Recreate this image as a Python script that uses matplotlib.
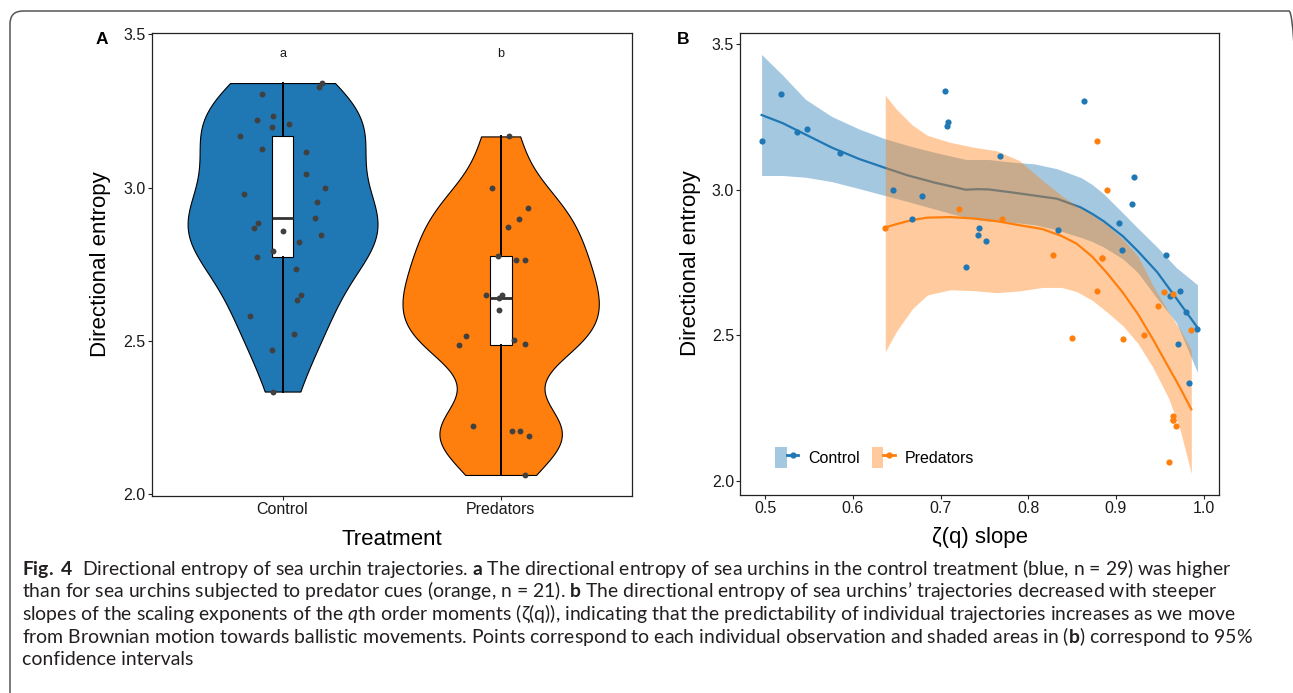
import numpy as np
import matplotlib
matplotlib.use("Agg")
import matplotlib.pyplot as plt
from matplotlib.patches import FancyBboxPatch, Patch
from matplotlib.lines import Line2D
from matplotlib.legend_handler import HandlerTuple
import matplotlib.transforms as mtransforms

W, H = 1293, 693
BLUE = "#1F77B4"
ORANGE = "#FF7F0E"

plt.rcParams["font.family"] = ["Liberation Sans", "DejaVu Sans"]
plt.rcParams["mathtext.fontset"] = "custom"
plt.rcParams["mathtext.rm"] = "Lato"
plt.rcParams["mathtext.bf"] = "Lato:bold"
plt.rcParams["mathtext.it"] = "Lato:italic"

# ---------------- data ----------------
groups = ["Control", "Predators"]
group_letters = ["a", "b"]
letter_y = 3.436

control_entropy = [3.341, 3.328, 3.306, 3.234, 3.219, 3.209, 3.198, 3.169, 3.127, 3.116,
                   3.043, 2.998, 2.980, 2.952, 2.901, 2.886, 2.867, 2.860, 2.845, 2.824,
                   2.793, 2.774, 2.735, 2.651, 2.635, 2.580, 2.522, 2.471, 2.335]
control_slope = [0.705, 0.518, 0.864, 0.708, 0.707, 0.548, 0.536, 0.496, 0.585, 0.768,
                 0.921, 0.646, 0.679, 0.918, 0.667, 0.903, 0.744, 0.834, 0.743, 0.752,
                 0.907, 0.957, 0.729, 0.973, 0.962, 0.980, 0.993, 0.971, 0.983]
control_jitter = [0.180, 0.165, -0.093, -0.046, -0.119, 0.031, -0.047, -0.194, -0.093, 0.109,
                  0.106, 0.196, -0.175, 0.160, 0.147, -0.114, -0.129, 0.000, 0.175, 0.077,
                  -0.044, -0.117, 0.060, 0.086, 0.064, -0.148, 0.052, -0.050, -0.046]

predator_entropy = [3.167, 3.000, 2.934, 2.898, 2.870, 2.776, 2.764, 2.764, 2.651, 2.649,
                    2.640, 2.600, 2.516, 2.502, 2.489, 2.488, 2.223, 2.207, 2.207, 2.189, 2.063]
predator_slope = [0.878, 0.890, 0.721, 0.770, 0.637, 0.828, 0.884, 0.884, 0.878, 0.955,
                  0.965, 0.948, 0.986, 0.932, 0.850, 0.908, 0.965, 0.965, 0.965, 0.968, 0.960]
predator_jitter = [0.038, -0.039, 0.126, 0.085, 0.036, -0.010, 0.072, 0.110, 0.008, -0.069,
                   -0.008, -0.007, -0.160, 0.062, 0.111, -0.192, -0.129, 0.054, 0.088, 0.129, 0.113]

# smooth fits
control_fit_x = [0.496, 0.520, 0.546, 0.576, 0.607, 0.637, 0.663, 0.694, 0.729, 0.742,
                 0.755, 0.781, 0.807, 0.833, 0.860, 0.873, 0.886, 0.908, 0.925, 0.947,
                 0.969, 0.993]
control_fit_y = [3.257, 3.229, 3.190, 3.145, 3.106, 3.075, 3.049, 3.024, 3.000, 3.002,
                 3.001, 2.991, 2.980, 2.969, 2.939, 2.917, 2.892, 2.840, 2.789, 2.717,
                 2.626, 2.526]
control_ci_hi = [3.465, 3.394, 3.311, 3.252, 3.209, 3.175, 3.152, 3.128, 3.104, 3.104,
                 3.104, 3.095, 3.089, 3.072, 3.042, 3.018, 2.986, 2.920, 2.868, 2.803,
                 2.732, 2.673]
control_ci_lo = [3.049, 3.049, 3.043, 3.028, 3.004, 2.980, 2.959, 2.933, 2.904, 2.897,
                 2.892, 2.888, 2.880, 2.862, 2.836, 2.822, 2.803, 2.762, 2.715, 2.626,
                 2.543, 2.372]

predator_fit_x = [0.637, 0.650, 0.668, 0.685, 0.711, 0.738, 0.764, 0.790, 0.816, 0.838,
                  0.855, 0.873, 0.890, 0.908, 0.925, 0.942, 0.960, 0.973, 0.986]
predator_fit_y = [2.870, 2.882, 2.896, 2.904, 2.906, 2.901, 2.892, 2.878, 2.865, 2.841,
                  2.815, 2.770, 2.713, 2.646, 2.573, 2.487, 2.390, 2.320, 2.245]
predator_ci_hi = [3.325, 3.276, 3.222, 3.187, 3.163, 3.146, 3.134, 3.100, 3.033, 2.980,
                  2.945, 2.913, 2.878, 2.830, 2.772, 2.672, 2.580, 2.520, 2.449]
predator_ci_lo = [2.443, 2.514, 2.591, 2.638, 2.656, 2.653, 2.646, 2.652, 2.664, 2.664,
                  2.650, 2.620, 2.579, 2.532, 2.472, 2.390, 2.284, 2.177, 2.024]

x_ticks_b = [0.5, 0.6, 0.7, 0.8, 0.9, 1.0]
y_ticks = [2.0, 2.5, 3.0, 3.5]

caption_lines = [
    r"$\mathbf{Fig.\ 4}$  Directional entropy of sea urchin trajectories. $\mathbf{a}$ The directional entropy of sea urchins in the control treatment (blue, n = 29) was higher",
    r"than for sea urchins subjected to predator cues (orange, n = 21). $\mathbf{b}$ The directional entropy of sea urchins’ trajectories decreased with steeper",
    r"slopes of the scaling exponents of the $\mathit{q}$th order moments (ζ(q)), indicating that the predictability of individual trajectories increases as we move",
    r"from Brownian motion towards ballistic movements. Points correspond to each individual observation and shaded areas in ($\mathbf{b}$) correspond to 95%",
    "confidence intervals",
]

# ---------------- helpers ----------------
def nrd0(x):
    x = np.asarray(x, float)
    sd = x.std(ddof=1)
    q75, q25 = np.percentile(x, [75, 25])
    lo = min(sd, (q75 - q25) / 1.34)
    return 0.9 * lo * len(x) ** -0.2


def kde(x, grid):
    x = np.asarray(x, float)
    bw = nrd0(x)
    z = (grid[:, None] - x[None, :]) / bw
    return np.exp(-0.5 * z ** 2).sum(1) / (len(x) * bw * np.sqrt(2 * np.pi))


def style_axes(ax):
    for s in ax.spines.values():
        s.set_color("#222222")
        s.set_linewidth(0.9)
    ax.tick_params(direction="out", length=2.6, width=0.8, color="#222222",
                   labelsize=11.5, labelcolor="#1a1a1a", pad=1.8)


fig = plt.figure(figsize=(W / 100, H / 100), dpi=100)

# ---------------- Panel A ----------------
ax1 = fig.add_axes([151.7 / W, 1 - 495.7 / H, (631.5 - 151.7) / W, (495.7 - 32.7) / H])
data_a = [np.array(control_entropy), np.array(predator_entropy)]
colors = [BLUE, ORANGE]
grids = [np.linspace(d.min(), d.max(), 512) for d in data_a]
dens = [kde(d, g) for d, g in zip(data_a, grids)]
dmax = max(d.max() for d in dens)
for i, (g, d, c) in enumerate(zip(grids, dens, colors)):
    w = 0.45 * d / dmax
    ax1.fill_betweenx(g, i + 1 - w, i + 1 + w, facecolor=c, edgecolor="black",
                      linewidth=0.8, zorder=1)

ax1.boxplot(data_a, positions=[1, 2], widths=0.1, patch_artist=True, showfliers=False,
            showcaps=False,
            boxprops=dict(facecolor="white", edgecolor="black", linewidth=0.8),
            whiskerprops=dict(color="black", linewidth=1.4),
            medianprops=dict(color="#333333", linewidth=2.0), zorder=2)

jit = [control_jitter, predator_jitter]
for i, d in enumerate(data_a):
    ax1.scatter(np.array(jit[i]) + i + 1, d, s=18, color="#404040", zorder=3, linewidths=0)

for i, lt in enumerate(group_letters):
    ax1.text(i + 1, letter_y, lt, ha="center", va="center", fontsize=9, color="#1a1a1a")

ax1.set_xlim(0.4, 2.6)
ax1.set_ylim(1.9954, 3.5052)
ax1.set_xticks([1, 2])
ax1.set_xticklabels(groups)
ax1.set_yticks(y_ticks)
ax1.set_yticklabels([f"{v:.1f}" for v in y_ticks])
ax1.set_xlabel("Treatment", fontsize=16, labelpad=9)
ax1.set_ylabel("Directional entropy", fontsize=16, labelpad=9)
style_axes(ax1)

# ---------------- Panel B ----------------
ax2 = fig.add_axes([740.3 / W, 1 - 494.5 / H, (1219.3 - 740.3) / W, (494.5 - 32.7) / H])
ax2.fill_between(control_fit_x, control_ci_lo, control_ci_hi, color=BLUE, alpha=0.4,
                 linewidth=0, zorder=1)
ax2.plot(control_fit_x, control_fit_y, color=BLUE, linewidth=1.6, zorder=2)
ax2.fill_between(predator_fit_x, predator_ci_lo, predator_ci_hi, color=ORANGE, alpha=0.4,
                 linewidth=0, zorder=3)
ax2.plot(predator_fit_x, predator_fit_y, color=ORANGE, linewidth=1.6, zorder=4)
ax2.scatter(control_slope, control_entropy, s=20, color=BLUE, zorder=5, linewidths=0)
ax2.scatter(predator_slope, predator_entropy, s=20, color=ORANGE, zorder=6, linewidths=0)

ax2.set_xlim(0.4717, 1.0179)
ax2.set_ylim(1.952, 3.540)
ax2.set_xticks(x_ticks_b)
ax2.set_xticklabels([f"{v:.1f}" for v in x_ticks_b])
ax2.set_yticks(y_ticks)
ax2.set_yticklabels([f"{v:.1f}" for v in y_ticks])
ax2.set_xlabel("ζ(q) slope", fontsize=16, labelpad=8)
ax2.set_ylabel("Directional entropy", fontsize=16, labelpad=8)
style_axes(ax2)

handles = []
for c in colors:
    handles.append((Patch(facecolor=c, alpha=0.4, edgecolor="none"),
                    Line2D([], [], color=c, linewidth=2, marker="o", markersize=3.5)))
ax2.legend(handles, groups, handler_map={tuple: HandlerTuple(ndivide=None, pad=0)},
           ncol=2, frameon=False, loc="center left", bbox_to_anchor=(0.073, 0.08),
           borderaxespad=0, borderpad=0, fontsize=11.5, handlelength=1.45,
           handleheight=1.6, handletextpad=0.6, columnspacing=0.75)

# panel labels
fig.text(102 / W, 1 - 39 / H, "A", fontweight="bold", fontsize=12.5, ha="center", va="center")
fig.text(683 / W, 1 - 39 / H, "B", fontweight="bold", fontsize=12.5, ha="center", va="center")

# border
tr = mtransforms.Affine2D().scale(1 / W, 1 / H) + fig.transFigure
border = FancyBboxPatch((10, -40), 1292, H - 11 + 40,
                        boxstyle="round,pad=0,rounding_size=13",
                        transform=tr, fill=False, edgecolor="#555555", linewidth=1.1)
fig.patches.append(border)

# caption
cap_fam = ["Lato", "DejaVu Sans"]
baselines = [575, 597.5, 620, 642.5, 665]
fs0 = 12.0
texts = []
for ln, yb in zip(caption_lines, baselines):
    t = fig.text(22 / W, 1 - yb / H, ln, fontsize=fs0, family=cap_fam, color="#231f20",
                 ha="left", va="baseline")
    texts.append(t)
renderer = fig.canvas.get_renderer()
w1 = texts[0].get_window_extent(renderer).width
w3 = texts[2].get_window_extent(renderer).width
fs = fs0 * 0.5 * ((1234 - 22) / w1 + (1235 - 22) / w3)
for t in texts:
    t.set_fontsize(fs)

fig.savefig("out.png", dpi=100)
